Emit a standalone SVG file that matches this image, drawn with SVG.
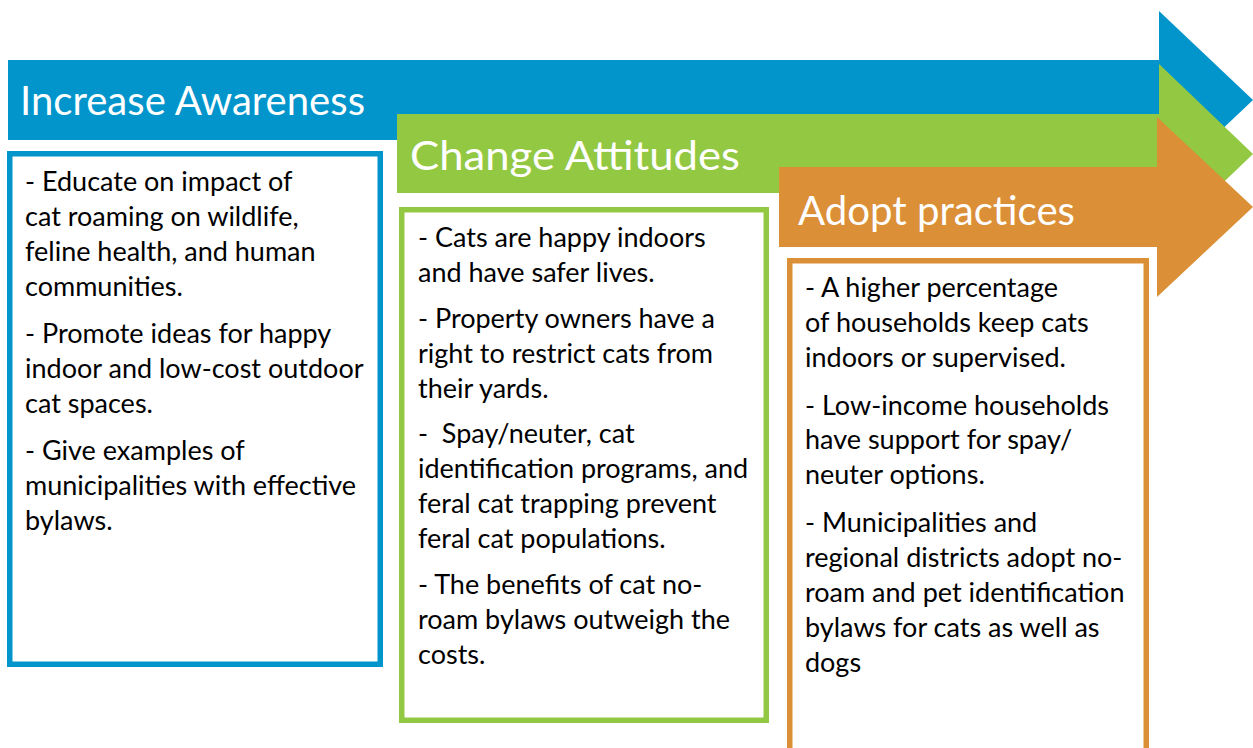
<svg xmlns="http://www.w3.org/2000/svg" width="1253" height="748" viewBox="0 0 1253 748">
  <style>
    .hdr { font-family: Lato, "Open Sans", "Liberation Sans", sans-serif; font-size: 41px; fill: #ffffff; }
    .body { font-family: Lato, "Open Sans", "Liberation Sans", sans-serif; font-size: 27px; fill: #000000; }
    .box { fill: #ffffff; stroke-width: 5.5; }
    .blue { fill: #0295cc; }
    .green { fill: #93c843; }
    .orange { fill: #db8f37; }
  </style>
  <rect x="0" y="0" width="1253" height="748" fill="#ffffff"/>

  <!-- stage 1: Increase Awareness -->
  <g id="stage-awareness">
    <polygon class="blue" points="8,60 1159,60 1159,11 1253,100 1159,189 1159,140 8,140"/>
    <text class="hdr" x="20" y="115" textLength="345" lengthAdjust="spacingAndGlyphs">Increase Awareness</text>
  </g>

  <!-- stage 2: Change Attitudes -->
  <g id="stage-attitudes">
    <polygon class="green" points="397,114 1159,114 1159,64 1253,154 1159,244 1159,193 397,193"/>
    <text class="hdr" x="410" y="170" textLength="330" lengthAdjust="spacingAndGlyphs">Change Attitudes</text>
  </g>

  <!-- stage 3: Adopt practices -->
  <g id="stage-practices">
    <polygon class="orange" points="779,167 1157,167 1157,117 1253,207 1157,297 1157,247 779,247"/>
    <text class="hdr" x="798" y="225" textLength="277" lengthAdjust="spacingAndGlyphs">Adopt practices</text>
  </g>

  <!-- detail boxes -->
  <g id="box-awareness">
    <rect class="box" x="9.75" y="153.75" width="370.5" height="510.5" stroke="#0295cc"/>
    <text class="body" x="25">
      <tspan x="25" y="191">- Educate on impact of</tspan>
      <tspan x="25" y="226">cat roaming on wildlife,</tspan>
      <tspan x="25" y="261">feline health, and human</tspan>
      <tspan x="25" y="296">communities.</tspan>
      <tspan x="25" y="343">- Promote ideas for happy</tspan>
      <tspan x="25" y="378">indoor and low-cost outdoor</tspan>
      <tspan x="25" y="413">cat spaces.</tspan>
      <tspan x="25" y="460">- Give examples of</tspan>
      <tspan x="25" y="495">municipalities with effective</tspan>
      <tspan x="25" y="530">bylaws.</tspan>
    </text>
  </g>

  <g id="box-attitudes">
    <rect class="box" x="401.75" y="209.75" width="364.5" height="510.5" stroke="#93c843"/>
    <text class="body" x="418">
      <tspan x="418" y="247">- Cats are happy indoors</tspan>
      <tspan x="418" y="282">and have safer lives.</tspan>
      <tspan x="418" y="328">- Property owners have a</tspan>
      <tspan x="418" y="363">right to restrict cats from</tspan>
      <tspan x="418" y="398">their yards.</tspan>
      <tspan x="418" y="443" xml:space="preserve">-  Spay/neuter, cat</tspan>
      <tspan x="418" y="478">identification programs, and</tspan>
      <tspan x="418" y="513">feral cat trapping prevent</tspan>
      <tspan x="418" y="548">feral cat populations.</tspan>
      <tspan x="418" y="594">- The benefits of cat no-</tspan>
      <tspan x="418" y="629">roam bylaws outweigh the</tspan>
      <tspan x="418" y="664">costs.</tspan>
    </text>
  </g>

  <g id="box-practices">
    <rect class="box" x="789.75" y="260.75" width="356.5" height="500" stroke="#db8f37"/>
    <text class="body" x="805">
      <tspan x="805" y="297">- A higher percentage</tspan>
      <tspan x="805" y="332">of households keep cats</tspan>
      <tspan x="805" y="367">indoors or supervised.</tspan>
      <tspan x="805" y="415">- Low-income households</tspan>
      <tspan x="805" y="449">have support for spay/</tspan>
      <tspan x="805" y="484">neuter options.</tspan>
      <tspan x="805" y="532">- Municipalities and</tspan>
      <tspan x="805" y="567">regional districts adopt no-</tspan>
      <tspan x="805" y="602">roam and pet identification</tspan>
      <tspan x="805" y="637">bylaws for cats as well as</tspan>
      <tspan x="805" y="672">dogs</tspan>
    </text>
  </g>
</svg>
